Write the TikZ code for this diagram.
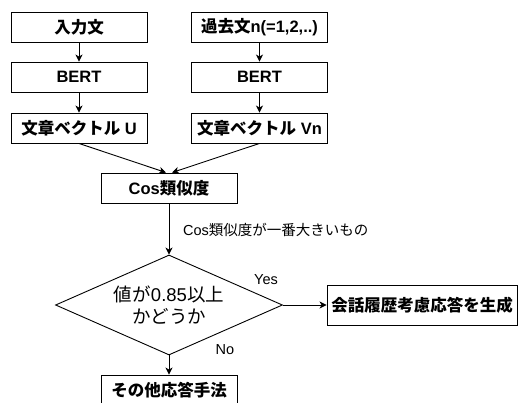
\documentclass[tikz,border=0pt]{standalone}
\usepackage{fontspec}
\setmainfont{Liberation Sans}
\newfontfamily\cjk{Noto Sans CJK JP}
\newcommand\J[1]{{\cjk #1}}
\usetikzlibrary{arrows.meta,shapes.geometric}
\tikzset{
  box/.style={draw=black,line width=0.9pt,fill=white,minimum width=136pt,minimum height=30pt,
    inner sep=2pt,font=\fontsize{16.5}{19}\selectfont\bfseries},
  arr/.style={draw=black,line width=0.9pt,-{Stealth[length=7pt,width=7pt,inset=2pt]}},
  lbl/.style={font=\fontsize{14.5}{17}\selectfont,inner sep=0pt},
  decision/.style={draw=black,line width=0.9pt,shape=diamond,aspect=2.27,minimum width=227pt,
    minimum height=100pt,inner sep=0pt,align=center,font=\fontsize{18.5}{22}\selectfont},
}
\begin{document}
\begin{tikzpicture}[x=1pt,y=-1pt]
\clip (0,0) rectangle (518,403);
\fill[white] (0,0) rectangle (518,403);
\node[box] (in) at (79,27) {\J{入力文}};
\node[box] (bl) at (79,77) {BERT};
\node[box] (u) at (79,128) {\J{文章ベクトル} U};
\node[box] (past) at (259.5,27) {\J{過去文}n(=1,2,..)};
\node[box] (br) at (259.5,77) {BERT};
\node[box] (v) at (259.5,128) {\J{文章ベクトル} Vn};
\node[box] (cos) at (169,188) {Cos\J{類似度}};
\node[decision] (dec) at (169,305) {\J{値が}0.85\J{以上}\\\J{かどうか}};
\node[box,minimum width=190pt,minimum height=40pt] (gen) at (422,305) {\J{会話履歴考慮応答を生成}};
\node[box] (oth) at (169,390) {\J{その他応答手法}};
\draw[arr] (in) -- (bl);
\draw[arr] (bl) -- (u);
\draw[arr] (past) -- (br);
\draw[arr] (br) -- (v);
\draw[arr] (u.south) -- ([xshift=-3pt]cos.north);
\draw[arr] (v.south) -- ([xshift=3pt]cos.north);
\draw[arr] (cos) -- (dec.north);
\draw[arr] (dec.east) -- (gen.west);
\draw[arr] (dec.south) -- (oth.north);
\node[lbl,anchor=west] (lsim) at (183,230) {Cos\J{類似度が一番大きいもの}};
\node[lbl] (lyes) at (266,280) {Yes};
\node[lbl] (lno) at (225,350) {No};
\end{tikzpicture}
\end{document}
